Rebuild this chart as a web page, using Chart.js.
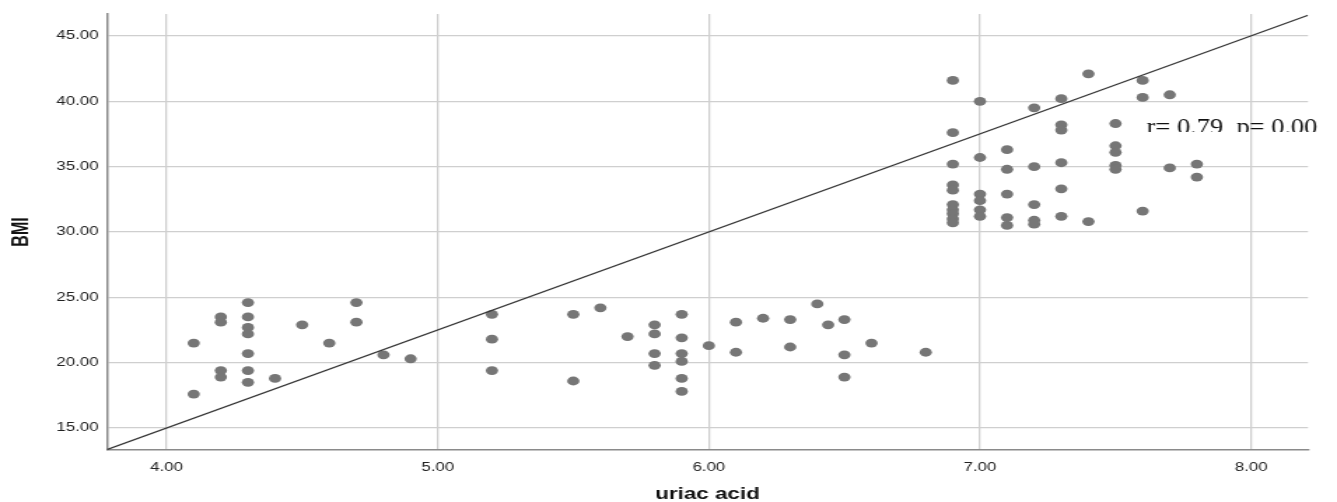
<!DOCTYPE html>
<html>
<head>
<meta charset="utf-8">
<title>BMI vs uriac acid</title>
<script src="https://cdn.jsdelivr.net/npm/chart.js@4.4.1/dist/chart.umd.min.js"></script>
<style>
  html, body { margin: 0; padding: 0; background: #fff; overflow: hidden; }
  /* the source picture was stretched sideways, so draw narrow and stretch */
  #wrap { width: 955px; height: 502px; transform: scaleX(1.4); transform-origin: 0 0; }
</style>
</head>
<body>
<div id="wrap"><canvas id="scatterChart" width="955" height="502"></canvas></div>
<script>
  const uricAcid = [
    4.1, 4.1,
    4.2, 4.2, 4.2, 4.2,
    4.3, 4.3, 4.3, 4.3, 4.3, 4.3, 4.3,
    4.4, 4.5, 4.6, 4.7, 4.7, 4.8, 4.9,
    5.2, 5.2, 5.2,
    5.5, 5.5, 5.6, 5.7,
    5.8, 5.8, 5.8, 5.8,
    5.9, 5.9, 5.9, 5.9, 5.9, 5.9,
    6.0, 6.1, 6.1, 6.2, 6.3, 6.3, 6.4, 6.44,
    6.5, 6.5, 6.5, 6.6, 6.8,
    6.9, 6.9, 6.9, 6.9, 6.9, 6.9, 6.9, 6.9, 6.9, 6.9,
    7.0, 7.0, 7.0, 7.0, 7.0, 7.0,
    7.1, 7.1, 7.1, 7.1, 7.1,
    7.2, 7.2, 7.2, 7.2, 7.2,
    7.3, 7.3, 7.3, 7.3, 7.3, 7.3,
    7.4, 7.4,
    7.5, 7.5, 7.5, 7.5, 7.5,
    7.6, 7.6, 7.6,
    7.7, 7.7,
    7.8, 7.8
  ];

  const bmi = [
    21.5, 17.6,
    23.5, 23.1, 19.4, 18.9,
    24.6, 23.5, 22.7, 22.2, 20.7, 19.4, 18.5,
    18.8, 22.9, 21.5, 24.6, 23.1, 20.6, 20.3,
    23.7, 21.8, 19.4,
    23.7, 18.6, 24.2, 22.0,
    22.9, 22.2, 20.7, 19.8,
    23.7, 21.9, 20.7, 20.1, 18.8, 17.8,
    21.3, 23.1, 20.8, 23.4, 23.3, 21.2, 24.5, 22.9,
    23.3, 20.6, 18.9, 21.5, 20.8,
    41.6, 37.6, 35.2, 33.6, 33.2, 32.1, 31.7, 31.4, 31.0, 30.7,
    40.0, 35.7, 32.9, 32.4, 31.7, 31.2,
    36.3, 34.8, 32.9, 31.1, 30.5,
    39.5, 35.0, 32.1, 30.9, 30.6,
    40.2, 38.2, 37.8, 35.3, 33.3, 31.2,
    42.1, 30.8,
    38.3, 36.6, 36.1, 35.1, 34.8,
    41.6, 40.3, 31.6,
    40.5, 34.9,
    35.2, 34.2
  ];

  // reference line, end to end across the plot
  const lineX = [3.78, 8.21];
  const lineY = [13.35, 46.58];

  const xTicks = [4, 5, 6, 7, 8];
  const yTicks = [15, 20, 25, 30, 35, 40, 45];

  const statsText = 'r= 0.79, p= 0.00';

  const sansFont = '"Liberation Sans", Arial, sans-serif';

  // the stats text is cut off just under its baseline in the original
  const statsLabel = {
    id: 'statsLabel',
    afterDraw(chart) {
      const { ctx } = chart;
      ctx.save();
      ctx.beginPath();
      ctx.rect(0, 0, chart.width, 132);
      ctx.clip();
      ctx.font = '23px "Liberation Serif", "Times New Roman", serif';
      ctx.fillStyle = '#111111';
      ctx.textBaseline = 'alphabetic';
      ctx.fillText(statsText, 819, 134, 122);
      ctx.restore();
    }
  };

  new Chart(document.getElementById('scatterChart').getContext('2d'), {
    type: 'scatter',
    plugins: [statsLabel],
    data: {
      datasets: [
        {
          type: 'line',
          data: lineX.map(function (x, i) { return { x: x, y: lineY[i] }; }),
          borderColor: '#333333',
          borderWidth: 1.2,
          pointRadius: 0,
          fill: false,
          tension: 0
        },
        {
          data: uricAcid.map(function (x, i) { return { x: x, y: bmi[i] }; }),
          backgroundColor: '#767676',
          borderWidth: 0,
          pointRadius: 4.4,
          pointHoverRadius: 4.4
        }
      ]
    },
    options: {
      responsive: false,
      devicePixelRatio: 1,
      animation: false,
      layout: {
        padding: { top: 14, right: 20.7, left: 0, bottom: 0 }
      },
      plugins: {
        legend: { display: false },
        tooltip: { enabled: false }
      },
      scales: {
        x: {
          type: 'linear',
          min: 3.78,
          max: 8.21,
          afterBuildTicks(scale) {
            scale.ticks = xTicks.map(function (v) { return { value: v }; });
          },
          afterFit(scale) {
            scale.height = 52;
          },
          grid: { color: '#cfcfcf', lineWidth: 1.3, drawTicks: false },
          border: { color: '#8a8a8a', width: 1.5 },
          ticks: {
            padding: 10,
            color: '#222222',
            maxRotation: 0,
            font: { family: sansFont, size: 12 },
            callback(value) { return Number(value).toFixed(2); }
          },
          title: {
            display: true,
            text: 'uriac acid',
            color: '#111111',
            padding: { top: 0, bottom: -2 },
            font: { family: sansFont, size: 16, weight: 'bold' }
          }
        },
        y: {
          type: 'linear',
          min: 13.32,
          max: 46.68,
          afterBuildTicks(scale) {
            scale.ticks = yTicks.map(function (v) { return { value: v }; });
          },
          afterFit(scale) {
            scale.width = 76.4;
          },
          grid: { color: '#cfcfcf', lineWidth: 1.3, drawTicks: false },
          border: { color: '#8a8a8a', width: 1.5 },
          ticks: {
            padding: 6,
            color: '#222222',
            font: { family: sansFont, size: 12 },
            callback(value) { return Number(value).toFixed(2); }
          },
          title: {
            display: true,
            text: 'BMI',
            color: '#111111',
            padding: { top: 6, bottom: 0 },
            font: { family: sansFont, size: 16, weight: 'bold' }
          }
        }
      }
    }
  });
</script>
</body>
</html>
